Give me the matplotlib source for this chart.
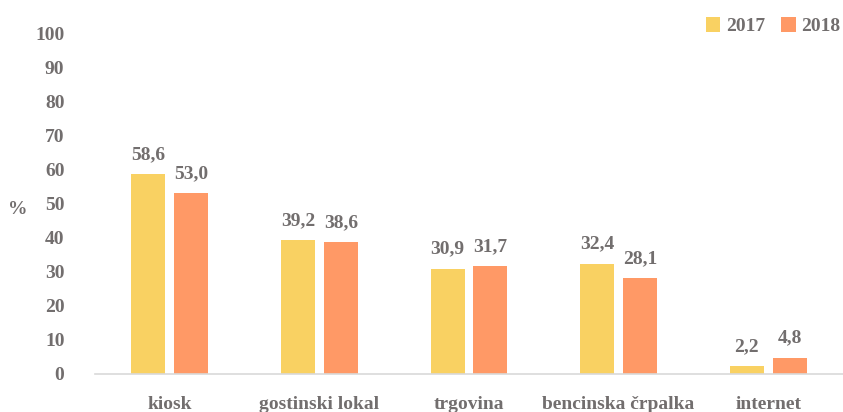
import matplotlib.pyplot as plt
import numpy as np

# Data
categories = ["kiosk", "gostinski lokal", "trgovina", "bencinska črpalka", "internet"]
values_2017 = [58.6, 39.2, 30.9, 32.4, 2.2]
values_2018 = [53.0, 38.6, 31.7, 28.1, 4.8]
years = ["2017", "2018"]

col_2017 = "#F9D162"
col_2018 = "#FF9966"
txt = "#726E6E"

plt.rcParams['font.family'] = ['Liberation Serif', 'DejaVu Serif']
plt.rcParams['font.weight'] = 'bold'
fs = 14

fig = plt.figure(figsize=(8.43, 4.12), dpi=100)
ax = fig.add_axes([95 / 843, 1 - 374 / 412, 1 - 95 / 843, (374 - 33) / 412])

x = np.arange(len(categories))
w = 0.227
off = 0.143
b1 = ax.bar(x - off, values_2017, w, color=col_2017, label=years[0])
b2 = ax.bar(x + off, values_2018, w, color=col_2018, label=years[1])

for bars in (b1, b2):
    for r in bars:
        v = r.get_height()
        ax.annotate(f"{v:.1f}".replace(".", ","),
                    (r.get_x() + r.get_width() / 2, v),
                    xytext=(0, 8), textcoords="offset points",
                    ha="center", va="bottom", fontsize=fs,
                    fontweight="bold", color=txt)

ax.set_xlim(-0.5, len(categories) - 0.5)
ax.set_ylim(0, 100)
ax.set_yticks(np.arange(0, 101, 10))
ax.set_xticks(x)
ax.set_xticklabels(categories)
ax.tick_params(axis="y", length=0, pad=22, labelsize=fs, labelcolor=txt)
ax.tick_params(axis="x", length=0, pad=16, labelsize=fs, labelcolor=txt)
for lab in ax.get_xticklabels() + ax.get_yticklabels():
    lab.set_fontweight("bold")

for s in ["top", "right", "left"]:
    ax.spines[s].set_visible(False)
ax.spines["bottom"].set_color("#D9D9D9")
ax.spines["bottom"].set_linewidth(1.2)

fig.text(18 / 843, 1 - 210 / 412, "%", fontsize=fs, fontweight="bold",
         color=txt, ha="center", va="center")

leg = ax.legend(loc="upper right", bbox_to_anchor=(1.02, 1.097), ncol=2,
                frameon=False, fontsize=fs, handlelength=0.75, handleheight=0.75,
                handletextpad=0.3, columnspacing=0.8)
for t in leg.get_texts():
    t.set_color(txt)
    t.set_fontweight("bold")

fig.savefig("out.png", dpi=100)
